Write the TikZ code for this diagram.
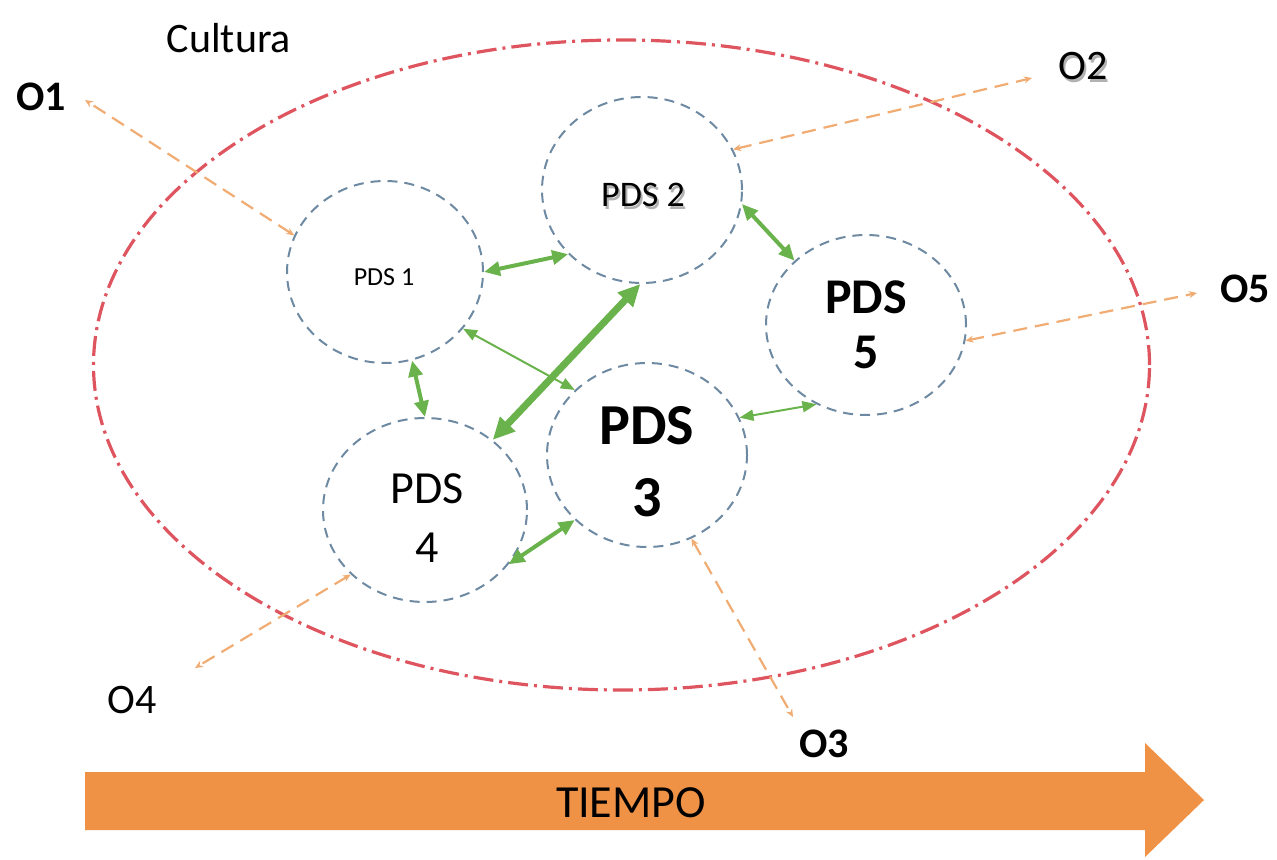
\documentclass[tikz,border=0pt]{standalone}
\usepackage{fontspec}
\setmainfont{Carlito}
\usetikzlibrary{arrows.meta,shapes.geometric}
\definecolor{culturared}{RGB}{222,85,95}
\definecolor{pdsblue}{RGB}{110,138,162}
\definecolor{linkgreen}{RGB}{106,178,76}
\definecolor{oline}{RGB}{240,172,115}
\definecolor{timeorange}{RGB}{240,146,70}
\begin{document}
\begin{tikzpicture}[x=0.5pt,y=-0.5pt,
  pds/.style={ellipse, draw=pdsblue, line width=1pt, dash pattern=on 5pt off 3.5pt,
    inner sep=0pt, minimum width=100pt, minimum height=92pt},
  pdstext/.style={inner sep=0pt, align=center},
  lab/.style={inner sep=0pt, font=\fontsize{21}{25}\selectfont},
  labb/.style={inner sep=0pt, font=\fontsize{21}{25}\selectfont\bfseries},
  shadowtext/.style={inner sep=0pt, text=black!30},
  gthick/.style={draw=linkgreen, line width=2pt,
    arrows={Triangle[length=8pt,width=7pt]-Triangle[length=8pt,width=7pt]}},
  gbig/.style={draw=linkgreen, line width=3.5pt,
    arrows={Triangle[length=11pt,width=10pt]-Triangle[length=11pt,width=10pt]}},
  gthin/.style={draw=linkgreen, line width=1pt,
    arrows={Triangle[length=7pt,width=5.5pt]-Triangle[length=7pt,width=5.5pt]}},
  oarrow/.style={draw=oline, line width=1.1pt, dash pattern=on 7pt off 4pt,
    arrows={Stealth[length=4pt,width=3.5pt]-Stealth[length=4pt,width=3.5pt]}},
  timearrow/.style={fill=timeorange, draw=none}
]
\useasboundingbox (0,0) rectangle (1277,860);

% culture ellipse
\node[ellipse, draw=culturared, line width=1.6pt,
  dash pattern=on 10pt off 3pt on 1.5pt off 3pt,
  inner sep=0pt, minimum width=528pt, minimum height=325pt] (cult) at (621.5,365) {};
\node[lab] (cultura) at (229,38) {Cultura};

% PDS circles
\node[pds, minimum width=98pt, minimum height=91pt] (p1) at (385,272) {};
\node[pds, minimum height=93pt] (p2) at (642,190) {};
\node[pds] (p3) at (647,455) {};
\node[pds, minimum width=102pt] (p4) at (425,510) {};
\node[pds, minimum height=90pt] (p5) at (866,325) {};

% PDS texts
\node[pdstext, font=\fontsize{13}{15}\selectfont] (t1) at (384,277) {PDS 1};
\node[pdstext, text=black!30, font=\fontsize{18}{21}\selectfont] (t2s) at (645,198) {PDS 2};
\node[pdstext, font=\fontsize{18}{21}\selectfont] (t2) at (643,195) {PDS 2};
\node[pdstext, font=\fontsize{29}{36}\selectfont\bfseries] (t3) at (647,462) {PDS\\3};
\node[pdstext, font=\fontsize{23}{29.5}\selectfont] (t4) at (427,518) {PDS\\4};
\node[pdstext, font=\fontsize{25}{27.5}\selectfont\bfseries] (t5) at (866,325) {PDS\\5};

% green links
\draw[gthick] (p1.0) -- (p2.221);
\draw[gthick] (p2.-8.5) -- (p5.138.7);
\draw[gthin] (p1.-36.4) -- (p3.138.3);
\draw[gbig] (p4.46.3) -- (p2.-91);
\draw[gthick] (p1.-73.6) -- (p4.90);
\draw[gthick] (p4.-33.8) -- (p3.222.9);
\draw[gthin] (p3.22.4) -- (p5.238.4);

% O labels and their links
\node[labb] (o1) at (41,97) {O1};
\node[shadowtext, font=\fontsize{21}{25}\selectfont] (o2s) at (1085,69) {O2};
\node[lab] (o2) at (1083,66) {O2};
\node[labb] (o3) at (824,744) {O3};
\node[lab] (o4) at (132,700) {O4};
\node[labb] (o5) at (1245,289) {O5};

\coordinate (e1) at (85,100);
\coordinate (e2) at (1032,78);
\coordinate (e3) at (793,717);
\coordinate (e4) at (195,668);
\coordinate (e5) at (1197,293);

\draw[oarrow] (p1.158) -- (e1);
\draw[oarrow] (p2.24) -- (e2);
\draw[oarrow] (p3.-62) -- (e3);
\draw[oarrow] (p4.221) -- (e4);
\draw[oarrow] (p5.-9.7) -- (e5);

% time arrow
\fill[timearrow] (85,772) -- (1145,772) -- (1145,743) -- (1204,800)
  -- (1145,857) -- (1145,830) -- (85,830) -- cycle;
\node[lab, font=\fontsize{23}{27}\selectfont] (tiempo) at (631,803) {TIEMPO};
\end{tikzpicture}
\end{document}
